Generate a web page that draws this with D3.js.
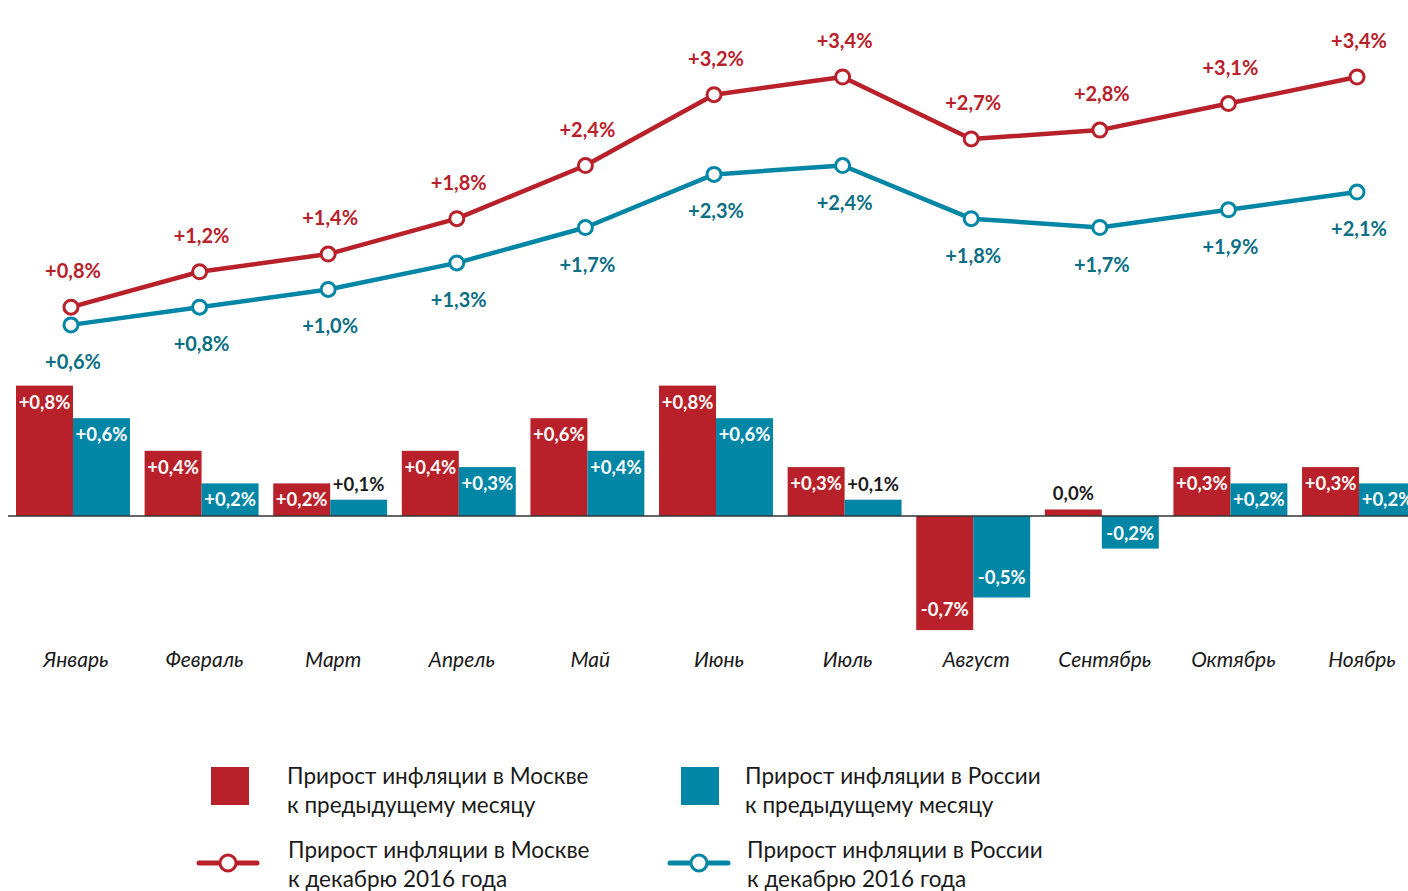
<!DOCTYPE html>
<html>
<head>
<meta charset="utf-8">
<script src="https://cdn.jsdelivr.net/npm/d3@7"></script>
<style>
  body { margin: 0; background: #fff; }
  svg { display: block; font-family: Lato, "Noto Sans", sans-serif; }
</style>
</head>
<body>
<div id="chart"></div>
<script>
const W = 1408, H = 891;
const COLORS = { red: '#b8202a', teal: '#0186a6', tealText: '#0c6f84', ink: '#1a1a1a' };

const months = ['Январь', 'Февраль', 'Март', 'Апрель', 'Май', 'Июнь', 'Июль', 'Август', 'Сентябрь', 'Октябрь', 'Ноябрь'];
// month-to-month change, %
const moscowMonthly = [0.8, 0.4, 0.2, 0.4, 0.6, 0.8, 0.3, -0.7, 0.04, 0.3, 0.3];
const russiaMonthly = [0.6, 0.2, 0.1, 0.3, 0.4, 0.6, 0.1, -0.5, -0.2, 0.2, 0.2];
// cumulative since December 2016, %
const moscowCumul = [0.8, 1.2, 1.4, 1.8, 2.4, 3.2, 3.4, 2.7, 2.8, 3.1, 3.4];
const russiaCumul = [0.6, 0.8, 1.0, 1.3, 1.7, 2.3, 2.4, 1.8, 1.7, 1.9, 2.1];

const legendItems = [
  { kind: 'bar', color: COLORS.red, lines: ['Прирост инфляции в Москве', 'к предыдущему месяцу'] },
  { kind: 'bar', color: COLORS.teal, lines: ['Прирост инфляции в России', 'к предыдущему месяцу'] },
  { kind: 'line', color: COLORS.red, lines: ['Прирост инфляции в Москве', 'к декабрю 2016 года'] },
  { kind: 'line', color: COLORS.teal, lines: ['Прирост инфляции в России', 'к декабрю 2016 года'] },
];

const fmt = v => {
  if (Math.abs(v) < 0.05) return '0,0%';
  return (v > 0 ? '+' : '-') + Math.abs(v).toFixed(1).replace('.', ',') + '%';
};

const svg = d3.select('#chart').append('svg').attr('width', W).attr('height', H);

const x = d3.scaleBand().domain(months).range([16, 1416]).paddingInner(0.114).paddingOuter(0);
const sub = d3.scaleBand().domain(['msk', 'rus']).range([0, x.bandwidth()]);
const yBar = d3.scaleLinear().domain([-0.7, 0.8]).range([516 + 0.7 * 163, 516 - 0.8 * 163]);
const yLine = d3.scaleLinear().domain([0, 3.4]).range([378, 77]);

// bars
const series = [
  { key: 'msk', vals: moscowMonthly, color: COLORS.red },
  { key: 'rus', vals: russiaMonthly, color: COLORS.teal },
];
const barG = svg.append('g');
series.forEach(s => {
  s.vals.forEach((v, i) => {
    const bx = x(months[i]) + sub(s.key), bw = sub.bandwidth();
    const y0 = yBar(0), y1 = yBar(v);
    const top = Math.min(y0, y1), h = Math.abs(y1 - y0);
    barG.append('rect').attr('x', bx).attr('y', top).attr('width', bw).attr('height', h).attr('fill', s.color);
    const t = barG.append('text').attr('x', bx + bw / 2).attr('text-anchor', 'middle')
      .attr('font-size', 18.5).attr('font-weight', 700).text(fmt(v));
    if (h < 28) {
      t.attr('y', v >= 0 ? top - 9 : top + h + 20).attr('fill', COLORS.ink);
    } else if (v > 0) {
      t.attr('y', top + 23).attr('fill', '#fff');
    } else {
      t.attr('y', Math.max(top + h - 14, y0 + 24)).attr('fill', '#fff');
    }
  });
});

// zero axis
svg.append('g').attr('transform', `translate(0,${yBar(0)})`)
  .call(d3.axisBottom(x).tickSize(0).tickFormat(''))
  .call(g => g.select('.domain').attr('d', 'M8,0H1408').attr('stroke', '#333').attr('stroke-width', 1.5));

// month labels
svg.append('g').selectAll('text').data(months).join('text')
  .attr('x', d => x(d) + x.bandwidth() / 2 + 3).attr('y', 667)
  .attr('text-anchor', 'middle').attr('font-size', 21).attr('font-style', 'italic')
  .attr('fill', COLORS.ink).text(d => d);

// cumulative lines
const cx = i => x(months[i]) + x.bandwidth() / 2 - 2;
const lines = [
  { vals: moscowCumul, color: COLORS.red, text: COLORS.red, dy: -29 },
  { vals: russiaCumul, color: COLORS.teal, text: COLORS.tealText, dy: 44 },
];
lines.forEach(l => {
  const g = svg.append('g');
  g.append('path').datum(l.vals)
    .attr('d', d3.line().x((d, i) => cx(i)).y(d => yLine(d)))
    .attr('fill', 'none').attr('stroke', l.color).attr('stroke-width', 4.5).attr('stroke-linejoin', 'round');
  g.selectAll('circle').data(l.vals).join('circle')
    .attr('cx', (d, i) => cx(i)).attr('cy', d => yLine(d)).attr('r', 7)
    .attr('fill', '#fff').attr('stroke', l.color).attr('stroke-width', 3);
  g.selectAll('text').data(l.vals).join('text')
    .attr('x', (d, i) => cx(i) + 2).attr('y', d => yLine(d) + l.dy)
    .attr('text-anchor', 'middle').attr('font-size', 20).attr('font-weight', 700)
    .attr('fill', l.text).text(d => fmt(d));
});

// legend: [mark x, mark y, text x]
const legPos = [[211, 767, 287], [681, 767, 745], [199, 841, 288], [670, 841, 747]];
legendItems.forEach((it, i) => {
  const [lx, ly, tx] = legPos[i];
  const g = svg.append('g');
  if (it.kind === 'bar') {
    g.append('rect').attr('x', lx).attr('y', ly).attr('width', 38).attr('height', 38).attr('fill', it.color);
  } else {
    g.append('line').attr('x1', lx).attr('x2', lx + 58).attr('y1', ly + 22).attr('y2', ly + 22)
      .attr('stroke', it.color).attr('stroke-width', 5).attr('stroke-linecap', 'round');
    g.append('circle').attr('cx', lx + 29).attr('cy', ly + 22).attr('r', 8)
      .attr('fill', '#fff').attr('stroke', it.color).attr('stroke-width', 3);
  }
  g.selectAll('text').data(it.lines).join('text')
    .attr('x', tx).attr('y', (d, j) => ly + 17 + j * 29)
    .attr('font-size', 22.5).attr('fill', COLORS.ink).text(d => d);
});
</script>
</body>
</html>
